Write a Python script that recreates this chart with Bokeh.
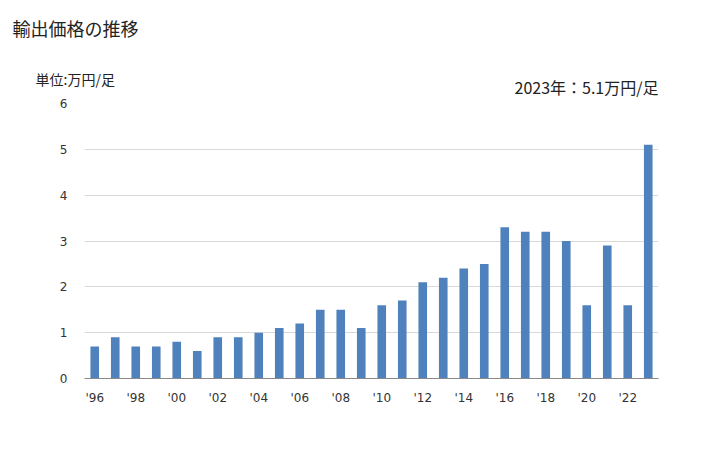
from bokeh.plotting import figure
from bokeh.models import Label, FixedTicker, Range1d, ColumnDataSource
from bokeh.embed import file_html
from bokeh.resources import INLINE

years = list(range(1996, 2024))
values = [0.7, 0.9, 0.7, 0.7, 0.8, 0.6, 0.9, 0.9, 1.0, 1.1, 1.2, 1.5, 1.5, 1.1,
          1.6, 1.7, 2.1, 2.2, 2.4, 2.5, 3.3, 3.2, 3.2, 3.0, 1.6, 2.9, 1.6, 5.1]
tick_years = list(range(1996, 2023, 2))
tick_labels = ["'" + str(y)[2:] for y in tick_years]
y_ticks = [0, 1, 2, 3, 4, 5, 6]

title_text = "輸出価格の推移"
unit_text = "単位:万円/足"
latest_text = "2023年：5.1万円/足"

FONT = "Noto Sans CJK JP"
TICK_FONT = "DejaVu Sans"

p = figure(width=728, height=450, output_backend="svg", toolbar_location=None,
           x_range=Range1d(1995.5, 2023.5), y_range=Range1d(0, 6))
p.min_border_left = 84
p.min_border_right = 70
p.min_border_top = 103
p.min_border_bottom = 72
p.outline_line_color = None
p.background_fill_color = "white"
p.border_fill_color = "white"

src = ColumnDataSource(dict(x=years, top=values))
p.vbar(x="x", top="top", bottom=0, width=0.42, source=src,
       fill_color="#4f81bd", line_color=None)

p.xaxis.ticker = FixedTicker(ticks=tick_years)
p.xaxis.major_label_overrides = {y: l for y, l in zip(tick_years, tick_labels)}
p.xaxis.axis_line_color = "#898989"
p.xaxis.major_tick_line_color = None
p.xaxis.minor_tick_line_color = None
p.xaxis.major_tick_out = 0
p.xaxis.minor_tick_out = 0
p.xaxis.major_label_text_font = TICK_FONT
p.xaxis.major_label_text_font_size = "12px"
p.xaxis.major_label_text_color = "#333333"
p.xaxis.major_label_standoff = 12

p.yaxis.ticker = FixedTicker(ticks=y_ticks)
p.yaxis.axis_line_color = None
p.yaxis.major_tick_line_color = None
p.yaxis.minor_tick_line_color = None
p.yaxis.major_tick_out = 0
p.yaxis.minor_tick_out = 0
p.yaxis.major_label_text_font = TICK_FONT
p.yaxis.major_label_text_font_size = "12px"
p.yaxis.major_label_text_color = "#333333"
p.yaxis.major_label_standoff = 17

p.xgrid.grid_line_color = None
p.ygrid.grid_line_color = "#d9d9d9"
p.ygrid.ticker = FixedTicker(ticks=y_ticks)

# Labels in the "above" side panel (not clipped); each stacks above the previous
p.add_layout(Label(x=574, y=17, x_units="screen", y_units="screen", text=latest_text,
                   text_font=FONT, text_font_size="16px", text_color="#222222",
                   text_baseline="middle", text_align="right"), "above")
p.add_layout(Label(x=-49, y=1, x_units="screen", y_units="screen", text=unit_text,
                   text_font=FONT, text_font_size="14px", text_color="#222222",
                   text_baseline="middle", text_align="left"), "above")
p.add_layout(Label(x=-72, y=32, x_units="screen", y_units="screen", text=title_text,
                   text_font=FONT, text_font_size="18px", text_color="#222222",
                   text_baseline="middle", text_align="left"), "above")

open("out.html", "w").write(file_html(p, INLINE))
